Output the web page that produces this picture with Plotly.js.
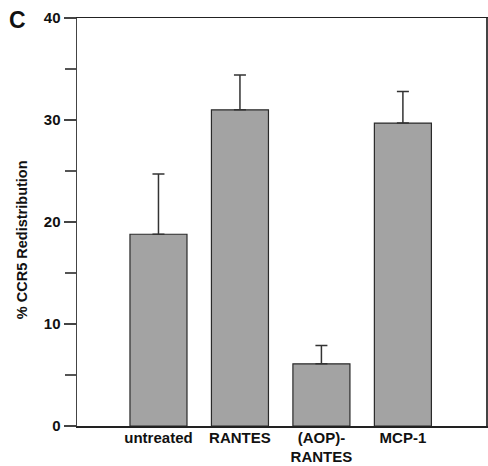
<!DOCTYPE html>
<html>
<head>
<meta charset="utf-8">
<script src="https://cdn.plot.ly/plotly-3.0.1.min.js"></script>
<style>html,body{margin:0;padding:0;background:#fff;}#chart{width:488px;height:466px;}</style>
</head>
<body>
<div id="chart"></div>
<script>
var categories = ["untreated", "RANTES", "(AOP)-<br>RANTES", "MCP-1"];
var redistribution = [18.8, 31.0, 6.1, 29.7];
var errorPlus = [5.9, 3.4, 1.8, 3.1];
var yTickValues = [0, 10, 20, 30, 40];

var trace = {
  type: "bar",
  x: [0, 1, 2, 3],
  y: redistribution,
  width: 0.7,
  marker: {color: "#a3a3a3", line: {color: "#2a2a2a", width: 1.2}},
  error_y: {type: "data", array: errorPlus, symmetric: false, arrayminus: [0,0,0,0],
            color: "#333", thickness: 1.5, width: 6}
};

var layout = {
  width: 488, height: 466,
  margin: {l: 77, r: 2, t: 18, b: 40},
  paper_bgcolor: "#fff", plot_bgcolor: "#fff",
  showlegend: false,
  font: {family: "Liberation Sans, Arial, sans-serif", color: "#111"},
  xaxis: {
    range: [-1, 4.02], tickvals: [0, 1, 2, 3], ticktext: categories,
    showline: true, linecolor: "#222", linewidth: 1.5, mirror: true,
    ticks: "", showgrid: false, zeroline: false, ticklabelstandoff: -3,
    tickfont: {size: 15, family: "Liberation Sans, Arial, sans-serif", weight: "bold"}
  },
  yaxis: {
    range: [0, 40], tickvals: yTickValues,
    showline: true, linecolor: "#444", linewidth: 1.5, mirror: true,
    ticks: "outside", ticklen: 12, tickwidth: 1.5, tickcolor: "#444",
    minor: {dtick: 5, ticks: "outside", ticklen: 11, tickwidth: 1.5, tickcolor: "#555"},
    showgrid: false, zeroline: false,
    tickfont: {size: 15, weight: "bold"}
  },
  annotations: [
    {text: "<b>% CCR5 Redistribution</b>", xref: "paper", yref: "paper",
     x: -0.134, xanchor: "center", y: 0.456, yanchor: "middle", textangle: -90,
     showarrow: false, font: {size: 14.5}},
    {text: "<b>C</b>", xref: "paper", yref: "paper", x: -0.145, xanchor: "center",
     y: 0.995, yanchor: "middle", showarrow: false, font: {size: 23}}
  ]
};

Plotly.newPlot("chart", [trace], layout, {displayModeBar: false, staticPlot: true});
</script>
</body>
</html>
